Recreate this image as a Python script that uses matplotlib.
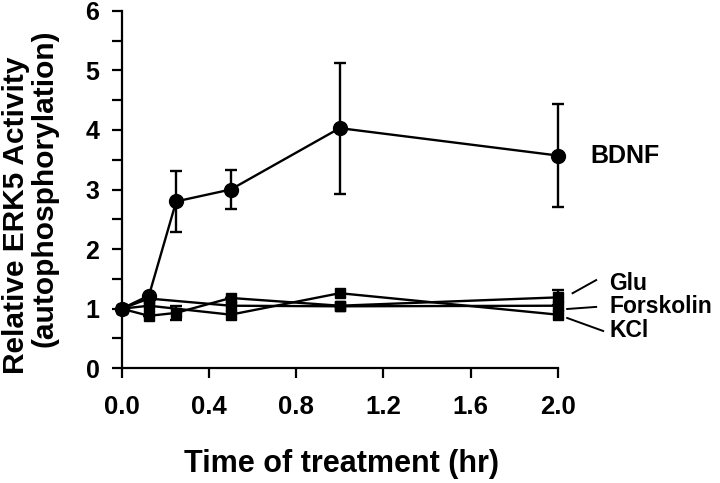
import matplotlib.pyplot as plt
from matplotlib.ticker import MultipleLocator

# ====== data ======
bdnf_t = [0.0, 0.125, 0.25, 0.5, 1.0, 2.0]
bdnf_y = [1.0, 1.22, 2.80, 3.0, 4.03, 3.57]
bdnf_err = [0.0, 0.0, 0.51, 0.33, 1.1, 0.86]

glu_t = [0.0, 0.125, 0.25, 0.5, 1.0, 2.0]
glu_y = [1.0, 0.88, 0.93, 1.18, 1.05, 1.19]
glu_err = [0.0, 0.0, 0.12, 0.0, 0.0, 0.13]

forsk_t = [0.0, 0.125, 0.5, 1.0, 2.0]
forsk_y = [1.0, 1.17, 1.05, 1.04, 1.05]

kcl_t = [0.0, 0.125, 0.5, 1.0, 2.0]
kcl_y = [1.0, 1.05, 0.90, 1.26, 0.90]

xticks = [0.0, 0.4, 0.8, 1.2, 1.6, 2.0]
yticks = [0, 1, 2, 3, 4, 5, 6]

plt.rcParams['font.family'] = ['Liberation Sans', 'DejaVu Sans']
plt.rcParams['font.weight'] = 'bold'

fig = plt.figure(figsize=(7.2, 4.83), dpi=100)
ax = fig.add_axes([0.169, 0.2375, 0.6057, 0.7403])

lw = 1.7
ax.errorbar(bdnf_t, bdnf_y, yerr=bdnf_err, color='black', lw=lw, marker='o',
            ms=10, capsize=4, elinewidth=lw, capthick=lw, clip_on=False, zorder=3)
ax.errorbar(glu_t, glu_y, yerr=glu_err, color='black', lw=lw, marker='s',
            ms=7, capsize=4, elinewidth=lw, capthick=lw, clip_on=False, zorder=3)
ax.plot(forsk_t, forsk_y, color='black', lw=lw, marker='s', ms=7, clip_on=False, zorder=3)
ax.plot(kcl_t, kcl_y, color='black', lw=lw, marker='s', ms=7, clip_on=False, zorder=3)

ax.set_xlim(0, 2.0)
ax.set_ylim(0, 6)
ax.set_xticks(xticks)
ax.set_xticklabels([f"{v:.1f}" for v in xticks])
ax.set_yticks(yticks)
ax.yaxis.set_minor_locator(MultipleLocator(0.5))
ax.tick_params(axis='both', which='both', direction='out', width=1.6, length=7,
               colors='black')
ax.tick_params(axis='x', pad=12, labelsize=18.5)
ax.tick_params(axis='y', pad=9, labelsize=18)
for lab in ax.get_xticklabels() + ax.get_yticklabels():
    lab.set_fontweight('bold')
for s in ['top', 'right']:
    ax.spines[s].set_visible(False)
for s in ['left', 'bottom']:
    ax.spines[s].set_linewidth(1.6)

# series labels
ax.text(2.15, bdnf_y[-1], "BDNF", fontsize=18, fontweight='bold', va='center', clip_on=False)
ax.text(2.236, 1.43, "Glu", fontsize=16.5, fontweight='bold', va='center', clip_on=False)
ax.text(2.236, 1.03, "Forskolin", fontsize=16.5, fontweight='bold', va='center', clip_on=False)
ax.text(2.236, 0.64, "KCl", fontsize=16.5, fontweight='bold', va='center', clip_on=False)
ax.plot([2.068, 2.176], [1.26, 1.48], color='black', lw=1.4, clip_on=False)
ax.plot([2.043, 2.176], [0.995, 1.03], color='black', lw=1.4, clip_on=False)
ax.plot([2.043, 2.208], [0.844, 0.626], color='black', lw=1.4, clip_on=False)

fig.text(0.475, 0.0228, "Time of treatment (hr)", fontsize=22, fontweight='bold',
         ha='center', va='baseline')
fig.text(0.022, 0.555, "Relative ERK5 Activity", fontsize=21.5, fontweight='bold',
         rotation=90, ha='center', va='center')
fig.text(0.062, 0.611, "(autophosphorylation)", fontsize=21.5, fontweight='bold',
         rotation=90, ha='center', va='center')

fig.savefig("out.png", dpi=100)
